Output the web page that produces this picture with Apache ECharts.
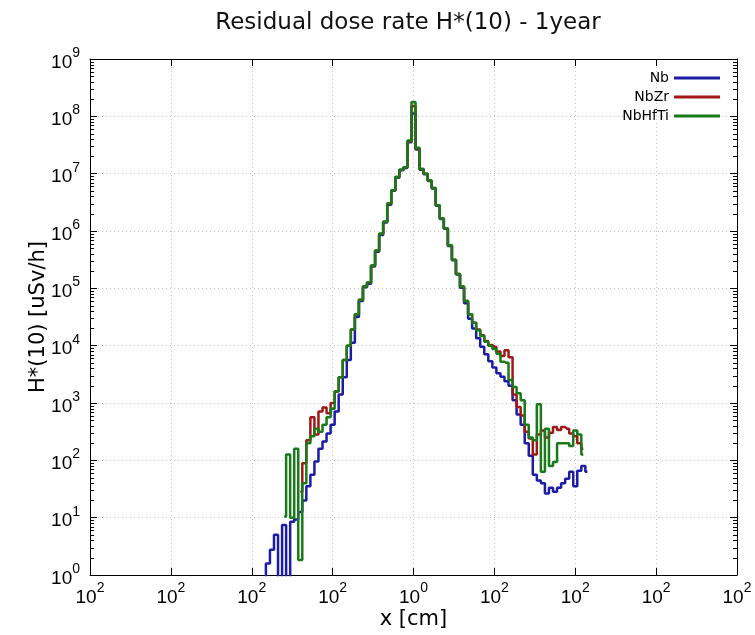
<!DOCTYPE html>
<html>
<head>
<meta charset="utf-8">
<script src="https://cdn.jsdelivr.net/npm/echarts@6/dist/echarts.min.js"></script>
<style>html,body{margin:0;padding:0;background:#fff}#c{width:755px;height:635px}</style>
</head>
<body>
<div id="c"></div>
<script>
// Bin centres along x (axis units; the axis runs -400..400 with the original's odd tick labels)
const binCenters = [-190,-185,-180,-175,-170,-165,-160,-155,-150,-145,-140,-135,-130,-125,-120,-115,-110,-105,-100,-95,
  -90,-85,-80,-75,-70,-65,-60,-55,-50,-45,-40,-35,-30,-25,-20,-15,-10,-5,0,5,
  10,15,20,25,30,35,40,45,50,55,60,65,70,75,80,85,90,95,100,105,
  110,115,120,125,130,135,140,145,150,155,160,165,170,175,180,185,190,195,200,205,
  210,215];

// log10 of H*(10) [uSv/h] per bin (null = no data)
const nbExp = [null,-1,0.20,0.44,0.70,-1,0.87,-1,0.93,0.97,1.10,1.30,1.55,1.75,1.98,2.20,2.33,2.47,2.62,2.85,
  3.15,3.45,3.75,4.05,4.50,4.78,5.02,5.08,5.38,5.64,5.93,6.15,6.46,6.70,6.93,7.06,7.10,7.55,8.05,7.42,
  7.07,6.99,6.87,6.74,6.44,6.21,6.04,5.74,5.49,5.24,5.01,4.74,4.47,4.30,4.13,3.98,3.85,3.73,3.62,3.52,
  3.46,3.38,3.30,3.05,2.80,2.62,2.30,2.08,1.75,1.65,1.60,1.42,1.52,1.45,1.52,1.60,1.68,1.80,1.55,1.82,
  1.90,1.80];

const nbZrExp = [null,null,null,null,null,null,null,null,null,null,1.45,1.95,2.35,2.75,2.45,2.85,2.92,2.82,3.00,3.20,
  3.45,3.75,4.00,4.28,4.55,4.80,5.03,5.10,5.40,5.66,5.95,6.16,6.48,6.71,6.94,7.07,7.11,7.56,8.18,7.44,
  7.08,7.00,6.88,6.75,6.45,6.22,6.05,5.75,5.50,5.25,5.03,4.78,4.55,4.40,4.28,4.18,4.08,4.01,3.98,3.90,
  3.82,3.92,3.80,3.15,2.93,2.78,2.50,2.38,2.10,2.45,2.52,2.40,2.48,2.58,2.53,2.58,2.55,2.47,2.42,2.30,
  2.20,null];

const nbHfTiExp = [null,null,null,null,null,null,1.02,2.10,1.00,2.20,0.26,1.60,2.30,2.42,2.55,2.50,2.62,2.75,2.90,3.20,
  3.45,3.75,4.00,4.28,4.55,4.80,5.03,5.10,5.40,5.66,5.95,6.16,6.48,6.71,6.94,7.07,7.11,7.58,8.25,7.45,
  7.08,7.00,6.88,6.75,6.45,6.22,6.05,5.75,5.50,5.25,5.03,4.78,4.55,4.40,4.27,4.17,4.07,4.00,3.94,3.86,
  3.72,3.70,3.40,3.28,3.17,3.05,2.62,2.40,2.35,2.98,1.80,2.55,1.90,1.97,2.30,2.30,2.30,2.25,2.52,2.45,
  2.10,null];

// tick label exponents as printed in the original (x ticks at -400..400 step 100)
const xTickExps = [2,2,2,2,0,2,2,2,2];
const seriesNames = ['Nb','NbZr','NbHfTi'];
const seriesColors = ['#1c1ca6','#a01818','#187a18'];

const toPoints = exps => binCenters.map((x,i)=>[x, exps[i]]).filter(p=>p[1]!==null).map(p=>[p[0], Math.pow(10,p[1])]);

const minorTicks = [];
for (let k=0;k<9;k++) for (let m=2;m<=9;m++) minorTicks.push([0, m*Math.pow(10,k)]);

const tickRich = {
  b:{fontFamily:'Liberation Sans',fontSize:19,color:'#000',padding:[7,0,0,0]},
  s:{fontFamily:'Liberation Sans',fontSize:14,color:'#000',verticalAlign:'top'}
};
const nameFont = {fontFamily:'DejaVu Sans',fontSize:21,color:'#000'};
const dotted = {color:'#c0c0c0',type:[1,3],width:1};

const chart = echarts.init(document.getElementById('c'));
chart.setOption({
  animation:false,
  backgroundColor:'#fff',
  title:{text:'Residual dose rate H*(10) - 1year',left:403,top:7,textAlign:'center',
    textStyle:{fontFamily:'DejaVu Sans',fontSize:23,fontWeight:'normal',color:'#111'}},
  grid:{left:90,top:59,width:647,height:517,containLabel:false},
  legend:seriesNames.map((n,i)=>({data:[{name:n,icon:'rect'}],right:35,top:71+i*19,orient:'vertical',align:'right',padding:0,
    itemWidth:46,itemHeight:3,itemGap:0,textStyle:{fontFamily:'DejaVu Sans',fontSize:14,color:'#000'}})),
  xAxis:[{type:'value',min:-400,max:400,interval:100,position:'bottom',
    axisLine:{show:true,onZero:false,lineStyle:{color:'#000',width:1}},
    axisTick:{show:true,inside:true,length:7,lineStyle:{color:'#000'}},
    axisLabel:{margin:6,formatter:v=>'{b|10}{s|'+xTickExps[Math.round((v+400)/100)]+'}',rich:tickRich},
    splitLine:{show:true,lineStyle:dotted},
    name:'x [cm]',nameLocation:'middle',nameGap:34,nameMoveOverlap:false,nameTextStyle:nameFont},
   {type:'value',min:-400,max:400,interval:100,position:'top',
    axisLine:{show:true,onZero:false,lineStyle:{color:'#000',width:1}},
    axisTick:{show:true,inside:true,length:7,lineStyle:{color:'#000'}},
    axisLabel:{show:false},splitLine:{show:false}}],
  yAxis:[{type:'log',logBase:10,min:1,max:1e9,interval:1,position:'left',
    axisLine:{show:true,onZero:false,lineStyle:{color:'#000',width:1}},
    axisTick:{show:true,inside:true,length:7,lineStyle:{color:'#000'}},
    axisLabel:{margin:10,formatter:v=>'{b|10}{s|'+Math.round(Math.log10(v))+'}',rich:tickRich},
    splitLine:{show:true,lineStyle:dotted},
    name:'H*(10) [uSv/h]',nameLocation:'middle',nameGap:41,nameMoveOverlap:false,nameTextStyle:nameFont},
   {type:'log',logBase:10,min:1,max:1e9,interval:1,position:'right',
    axisLine:{show:true,onZero:false,lineStyle:{color:'#000',width:1}},
    axisTick:{show:true,inside:true,length:7,lineStyle:{color:'#000'}},
    axisLabel:{show:false},splitLine:{show:false}}],
  series:[
    ...[nbExp,nbZrExp,nbHfTiExp].map((e,i)=>({name:seriesNames[i],type:'line',step:'middle',
      data:toPoints(e),symbol:'none',showSymbol:false,clip:true,
      lineStyle:{color:seriesColors[i],width:2.5},itemStyle:{color:seriesColors[i]}})),
    {type:'custom',xAxisIndex:0,yAxisIndex:0,silent:true,clip:false,z:5,data:minorTicks,encode:{x:0,y:1},
     renderItem:(params,api)=>{
       const v=api.value(1);
       const l=api.coord([-400,v]), r=api.coord([400,v]);
       const y=Math.round(l[1])+0.5;
       return {type:'group',children:[
         {type:'line',shape:{x1:l[0],y1:y,x2:l[0]+4,y2:y},style:{stroke:'#000',lineWidth:1}},
         {type:'line',shape:{x1:r[0]-4,y1:y,x2:r[0],y2:y},style:{stroke:'#000',lineWidth:1}}]};
     }}
  ]
});
</script>
</body>
</html>
